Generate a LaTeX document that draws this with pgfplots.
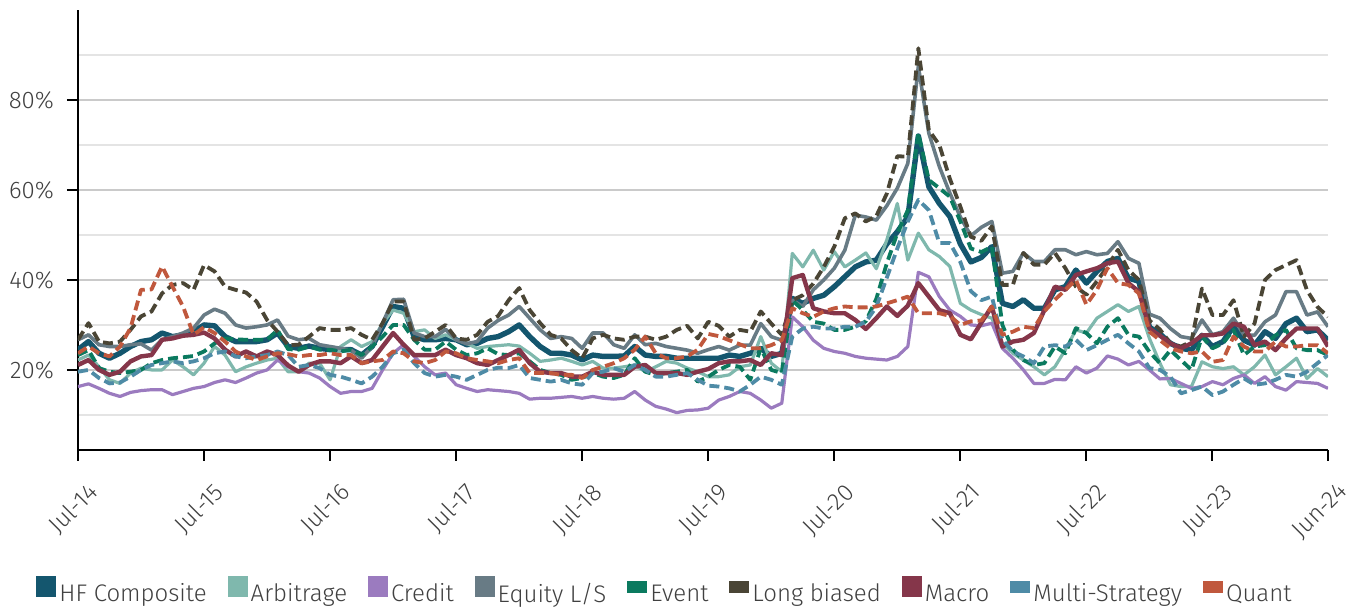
\documentclass[border=0pt]{standalone}
\usepackage{fontspec}
\setmainfont{Fira Sans Light}
\usepackage{pgfplots}
\pgfplotsset{compat=1.18}
\usepackage{pgfplotstable}
\definecolor{cHF}{HTML}{14566E}
\definecolor{cArb}{HTML}{7FB8AD}
\definecolor{cCred}{HTML}{9B7BBF}
\definecolor{cEq}{HTML}{687B85}
\definecolor{cEv}{HTML}{0B7A5F}
\definecolor{cLB}{HTML}{4A4535}
\definecolor{cMac}{HTML}{85364A}
\definecolor{cMS}{HTML}{4E8BA6}
\definecolor{cQ}{HTML}{C0583D}
\definecolor{gridmaj}{HTML}{CACACA}
\definecolor{gridmin}{HTML}{E4E4E4}
\definecolor{labgray}{HTML}{404040}
\pgfplotstableread{
m HF Arb Cred Eq Ev LB Mac MS Q
0 24.5 22.2 16.3 26.7 23.3 26.7 21.1 19.6 23.7
1 26.3 23.3 16.9 27.8 24.4 30.4 22.2 20.0 25.2
2 23.7 20.7 15.9 25.6 20.4 26.3 20.0 18.2 23.7
3 22.6 17.8 14.8 25.2 19.6 25.9 18.9 17.0 23.0
4 23.7 17.0 14.1 25.2 19.3 26.3 19.6 17.2 25.2
5 25.2 19.3 15.0 25.6 19.6 28.9 21.9 18.5 29.3
6 26.3 20.4 15.4 25.8 20.0 31.9 23.0 20.0 37.8
7 26.7 20.0 15.6 24.4 21.5 33.0 23.3 21.1 37.9
8 28.2 20.0 15.6 26.7 22.2 37.0 26.7 21.5 43.0
9 27.4 22.2 14.5 27.4 22.6 38.9 27.0 21.9 38.5
10 27.8 20.7 15.2 28.2 22.8 39.3 27.6 21.5 34.1
11 28.5 18.9 15.9 29.3 23.1 37.8 27.8 21.9 27.8
12 30.0 21.5 16.3 32.2 24.1 43.3 28.3 22.6 29.5
13 29.8 25.2 17.2 33.5 25.9 41.9 27.0 23.7 28.2
14 27.4 23.3 17.8 32.6 27.0 38.5 24.5 24.1 26.3
15 26.3 19.6 17.2 30.0 26.8 37.8 23.0 23.0 24.1
16 26.3 20.7 18.2 29.3 26.7 37.2 24.1 22.6 23.0
17 26.3 21.5 19.3 29.6 26.7 35.2 23.0 23.0 22.2
18 26.7 22.2 20.0 30.0 26.7 31.1 24.1 23.3 23.0
19 28.2 22.6 22.2 31.1 28.9 28.5 23.3 24.1 23.7
20 25.2 19.6 20.7 27.5 24.6 25.5 21.0 23.3 23.5
21 24.8 19.6 19.6 26.7 24.5 25.6 19.6 20.7 23.0
22 25.3 21.5 19.3 27.0 25.2 27.4 21.1 21.1 23.3
23 24.8 21.5 18.2 25.6 24.5 29.3 21.9 20.4 23.3
24 24.5 17.8 16.3 25.2 24.5 28.9 21.9 18.9 23.7
25 24.5 25.2 14.8 24.8 24.1 28.9 21.5 18.5 23.3
26 24.5 26.7 15.2 24.4 24.5 29.3 23.0 17.8 23.3
27 23.3 25.2 15.2 22.6 23.3 27.8 21.5 17.0 21.5
28 25.2 26.3 15.9 25.2 25.2 26.7 22.2 18.5 21.9
29 29.6 30.4 20.0 30.4 27.4 30.4 25.2 20.7 22.2
30 34.1 33.3 23.7 35.6 30.0 35.2 28.2 23.7 24.1
31 33.7 32.6 25.6 35.7 30.0 35.2 25.6 24.5 23.7
32 27.4 28.5 23.0 28.2 26.7 26.7 23.3 21.5 21.9
33 26.7 28.9 20.7 27.4 24.5 27.0 23.3 19.3 21.5
34 26.7 27.0 18.9 27.4 24.5 28.5 23.3 18.5 22.2
35 27.0 27.8 19.3 29.0 26.3 30.0 24.5 18.9 24.1
36 26.7 26.7 16.7 26.7 24.5 27.0 23.3 18.5 23.7
37 25.6 25.9 15.9 25.8 23.3 26.7 22.6 17.8 22.6
38 25.9 24.8 15.2 26.3 23.7 27.8 21.5 18.9 22.2
39 27.0 25.2 15.6 29.3 24.8 30.7 21.1 20.0 21.9
40 27.4 25.4 15.4 31.0 23.5 32.0 22.2 20.5 21.5
41 28.5 25.6 15.2 32.2 23.3 35.5 23.3 20.4 22.2
42 30.0 25.3 14.8 34.1 23.7 38.2 24.5 21.1 22.6
43 27.4 23.7 13.5 31.5 21.9 33.3 21.5 18.2 19.3
44 25.2 21.9 13.7 28.9 20.0 30.4 19.6 17.8 19.3
45 23.7 22.2 13.7 27.0 19.3 27.8 19.3 17.4 19.3
46 23.7 22.6 13.9 27.4 18.9 27.0 19.3 17.8 18.9
47 23.3 21.9 14.1 27.0 17.8 24.4 18.5 17.0 18.9
48 22.2 21.1 13.7 24.8 18.2 22.6 18.5 16.7 18.2
49 23.3 21.9 14.1 28.2 19.3 27.0 19.6 19.3 20.0
50 23.0 20.4 13.7 28.2 18.5 27.8 18.9 19.6 20.7
51 23.0 20.4 13.5 25.6 18.2 27.0 18.9 20.4 21.5
52 23.1 20.7 13.7 24.8 18.9 26.7 18.9 19.6 22.6
53 25.2 21.1 15.2 27.8 22.6 27.4 20.7 21.1 24.5
54 23.3 19.6 13.3 25.6 19.6 27.4 21.1 20.0 27.4
55 23.0 20.7 11.9 25.9 18.9 26.7 19.3 18.5 23.7
56 23.0 21.9 11.3 25.2 19.3 27.4 19.3 18.5 22.6
57 22.6 21.5 10.5 24.8 19.6 28.9 19.3 18.9 22.6
58 22.6 20.4 11.0 24.4 20.0 29.8 18.9 19.3 23.0
59 22.6 19.6 11.1 23.7 17.4 27.0 19.6 17.8 24.5
60 22.6 18.5 11.5 24.5 18.5 30.7 20.2 16.5 28.0
61 22.6 18.5 13.3 25.2 20.0 29.8 21.5 16.3 27.5
62 23.3 18.9 14.1 24.4 21.1 27.4 21.9 15.9 26.6
63 23.0 20.7 15.2 25.5 20.7 28.9 21.9 15.2 25.7
64 23.7 21.1 14.8 25.5 17.8 28.5 22.2 16.7 24.8
65 24.8 27.4 13.3 30.3 24.8 33.0 21.1 18.5 24.8
66 23.0 21.5 11.5 27.4 20.0 30.3 23.7 17.8 25.5
67 23.7 19.6 12.6 26.6 19.3 27.8 23.3 16.7 26.6
68 35.9 45.9 31.8 35.5 35.5 35.5 40.4 27.4 33.7
69 34.8 42.9 29.6 34.1 33.3 36.6 41.1 29.2 32.6
70 35.9 46.6 26.6 37.8 30.7 39.2 33.7 29.6 31.8
71 36.6 42.2 24.8 40.0 30.3 42.9 33.0 29.2 33.0
72 38.5 46.3 24.1 42.6 28.9 47.4 32.6 29.2 33.7
73 40.7 42.9 23.7 46.6 28.9 53.7 32.6 29.6 34.1
74 42.9 44.4 23.0 54.4 29.6 54.8 31.1 29.6 33.9
75 44.0 46.0 22.6 54.0 30.8 53.0 29.1 30.7 33.9
76 44.4 42.5 22.4 53.3 35.8 54.2 31.5 34.0 34.1
77 48.0 48.9 22.2 56.5 43.7 59.2 34.1 40.5 34.8
78 50.7 57.0 23.0 60.4 50.4 67.5 32.0 47.0 35.5
79 54.0 44.4 25.2 65.9 55.5 67.4 34.3 53.0 36.3
80 72.0 50.4 41.7 87.5 72.6 91.5 39.3 57.8 32.6
81 60.7 46.7 40.7 72.6 62.2 73.3 36.3 55.5 32.6
82 57.0 45.2 36.3 65.2 60.4 70.0 33.3 48.2 32.6
83 54.1 43.0 33.3 59.3 58.5 62.5 32.6 48.2 32.0
84 48.0 34.8 31.9 54.0 53.0 56.3 27.8 44.0 30.0
85 44.0 33.3 30.0 49.8 47.0 49.6 26.8 37.5 30.8
86 45.0 32.3 29.8 51.7 46.2 48.7 30.5 35.5 31.0
87 47.4 31.5 30.4 53.0 47.4 51.9 34.1 36.3 34.1
88 34.8 25.9 24.8 41.5 30.0 38.9 25.2 26.7 27.8
89 34.1 23.7 22.6 41.9 24.5 38.9 26.3 24.1 28.5
90 35.6 22.2 20.0 46.0 22.2 46.0 26.7 23.0 29.6
91 33.7 20.7 17.0 44.1 21.1 43.4 28.2 21.5 29.3
92 33.7 18.9 17.0 44.1 21.5 43.4 33.3 25.2 33.0
93 37.8 20.7 17.9 46.7 25.2 46.0 38.5 25.5 35.6
94 38.5 24.5 17.8 46.7 23.7 42.6 37.8 25.2 37.8
95 42.2 28.9 20.7 45.6 29.3 38.5 41.1 26.7 40.0
96 39.3 28.2 19.3 46.3 28.2 36.7 41.9 24.4 34.5
97 41.9 31.5 20.4 45.6 25.9 39.7 42.6 25.5 37.8
98 44.1 33.0 23.1 45.9 29.6 43.0 43.7 26.7 42.6
99 44.8 34.5 22.4 48.5 31.5 46.7 44.1 27.8 39.3
100 40.4 33.0 21.1 44.8 27.8 42.2 39.3 25.9 38.9
101 39.7 34.1 21.9 43.7 27.4 40.0 37.4 24.1 37.0
102 29.5 27.0 20.0 32.4 24.0 31.0 29.2 20.4 28.5
103 28.0 21.5 18.0 31.5 21.5 29.0 27.6 20.0 26.6
104 25.9 16.7 18.1 29.2 24.4 25.9 25.9 18.5 24.8
105 24.8 16.3 17.0 27.4 22.2 25.2 24.8 14.8 24.1
106 24.4 16.3 15.9 27.0 20.0 26.3 25.9 15.5 23.7
107 27.7 21.8 16.3 31.1 27.4 38.1 27.7 16.3 24.1
108 25.2 20.7 17.4 27.8 24.8 32.2 27.7 14.4 21.8
109 26.3 20.3 16.7 28.5 25.9 32.2 28.1 15.2 22.2
110 29.6 20.7 18.1 31.5 28.9 35.5 30.3 16.7 27.4
111 26.6 18.9 18.9 27.8 23.3 27.4 29.6 18.1 25.2
112 25.5 20.7 17.0 27.7 25.2 30.3 25.5 16.7 24.1
113 28.5 23.3 18.5 30.7 25.5 40.0 26.3 17.0 24.1
114 27.0 18.9 16.3 32.2 27.7 42.2 24.4 17.8 26.3
115 30.3 20.7 15.5 37.4 28.9 43.3 27.0 18.9 25.2
116 31.5 22.6 17.4 37.4 24.8 44.4 29.2 18.5 25.2
117 28.5 18.1 17.2 32.2 24.4 37.7 29.2 19.6 25.5
118 28.9 20.3 17.0 32.9 24.4 34.0 29.2 21.5 25.5
119 26.6 18.5 15.9 29.6 23.3 31.8 25.2 23.3 23.7
}\data
\begin{document}
\begin{tikzpicture}
\useasboundingbox (-39pt,-80pt) rectangle (634pt,225pt);
\begin{axis}[
  at={(0pt,0pt)}, anchor=south west,
  scale only axis, width=625pt, height=220pt,
  xmin=0, xmax=119, ymin=2.2, ymax=100,
  axis x line*=bottom, axis y line*=left,
  axis line style={black, line width=1pt},
  xtick={0,12,24,36,48,60,72,84,96,108,119},
  xticklabels={Jul-14,Jul-15,Jul-16,Jul-17,Jul-18,Jul-19,Jul-20,Jul-21,Jul-22,Jul-23,Jun-24},
  ytick={20,40,60,80},
  yticklabels={20\%,40\%,60\%,80\%},
  minor ytick={10,30,50,70,90},
  ymajorgrids, yminorgrids,
  major grid style={color=gridmaj, line width=1pt},
  minor grid style={color=gridmin, line width=1pt},
  tick align=outside,
  major tick length=5.5pt,
  minor tick length=0pt,
  tick style={black, line width=1pt},
  xticklabel style={rotate=45, anchor=north east, font=\fontsize{12}{14}\selectfont, text=labgray, inner sep=1pt, yshift=-9pt, xshift=-3pt},
  yticklabel style={font=\fontsize{12}{14}\selectfont, text=labgray, xshift=-3pt},
  legend columns=9,
  legend style={at={(0.47,-0.325)}, anchor=center, draw=none, fill=none,
    font=\fontsize{12}{14}\selectfont, text=labgray,
    /tikz/every even column/.append style={column sep=9pt},
    nodes={inner xsep=1.5pt}},
  legend cell align=left,
  line join=round,
]
\addplot[color=cHF, line width=2.7pt, legend image code/.code={\path[fill=cHF, draw=none] (0pt,-1.5pt) rectangle (10pt,9pt);}] table[x=m,y=HF]{\data};
\addlegendentry{HF Composite}
\addplot[color=cArb, line width=1.6pt, legend image code/.code={\path[fill=cArb, draw=none] (0pt,-1.5pt) rectangle (10pt,9pt);}] table[x=m,y=Arb]{\data};
\addlegendentry{Arbitrage}
\addplot[color=cCred, line width=1.6pt, legend image code/.code={\path[fill=cCred, draw=none] (0pt,-1.5pt) rectangle (10pt,9pt);}] table[x=m,y=Cred]{\data};
\addlegendentry{Credit}
\addplot[color=cEq, line width=1.8pt, legend image code/.code={\path[fill=cEq, draw=none] (0pt,-1.5pt) rectangle (10pt,9pt);}] table[x=m,y=Eq]{\data};
\addlegendentry{Equity L/S}
\addplot[color=cEv, line width=1.9pt, dash pattern=on 5pt off 2.5pt, legend image code/.code={\path[fill=cEv, draw=none] (0pt,0.5pt) rectangle (10pt,6.5pt);}] table[x=m,y=Ev]{\data};
\addlegendentry{Event}
\addplot[color=cLB, line width=1.9pt, dash pattern=on 5pt off 2.5pt, legend image code/.code={\path[fill=cLB, draw=none] (0pt,0.5pt) rectangle (10pt,6.5pt);}] table[x=m,y=LB]{\data};
\addlegendentry{Long biased}
\addplot[color=cMac, line width=2.2pt, legend image code/.code={\path[fill=cMac, draw=none] (0pt,-1.5pt) rectangle (10pt,9pt);}] table[x=m,y=Mac]{\data};
\addlegendentry{Macro}
\addplot[color=cMS, line width=1.9pt, dash pattern=on 5pt off 2.5pt, legend image code/.code={\path[fill=cMS, draw=none] (0pt,0.5pt) rectangle (10pt,6.5pt);}] table[x=m,y=MS]{\data};
\addlegendentry{Multi-Strategy}
\addplot[color=cQ, line width=1.9pt, dash pattern=on 5pt off 2.5pt, legend image code/.code={\path[fill=cQ, draw=none] (0pt,0.5pt) rectangle (10pt,6.5pt);}] table[x=m,y=Q]{\data};
\addlegendentry{Quant}
\end{axis}
\end{tikzpicture}
\end{document}
